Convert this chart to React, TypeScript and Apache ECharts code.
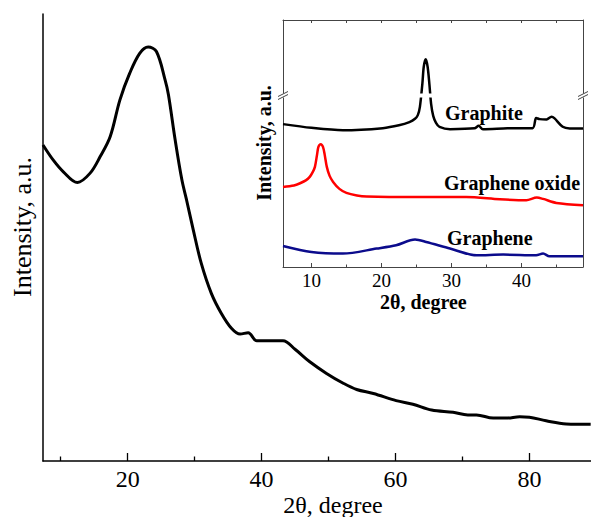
import React, { useEffect, useRef } from "react";
import * as echarts from "echarts";

// Main pattern (2θ in degrees, intensity in a.u.)
const mainTheta = [7.36, 8.9, 10.4, 12.5, 14.4, 15.9, 17.4, 18.85, 20.3, 21.8, 23.07, 24.3, 25.6, 26.1, 27.1, 28.1, 28.8, 29.8, 31.0, 32.5, 34.0, 35.5, 36.8, 38.0, 39.3, 43.2, 45.0, 47.2, 49.7, 52.2, 54.2, 56.7, 60.1, 62.6, 65.4, 68.6, 70.8, 72.1, 74.6, 76.6, 78.55, 80.0, 82.5, 85.5, 89.15];
const mainIntensity = [70.7, 67.3, 64.7, 62.3, 64.4, 68.1, 72.6, 80.8, 86.7, 91.2, 92.6, 91.6, 85.2, 81.9, 71.8, 62.9, 58.4, 51.7, 44.2, 37.5, 33.0, 29.7, 28.4, 28.7, 26.9, 26.9, 25.0, 22.2, 19.6, 17.4, 16.0, 15.1, 13.5, 12.7, 11.4, 10.9, 10.3, 10.3, 9.6, 9.6, 9.9, 9.8, 9.0, 8.3, 8.2];

// Inset patterns
const graphiteTheta = [5.94, 10, 14.5, 20.2, 22.5, 24, 24.8, 25.2, 25.5, 25.85, 26.05, 26.33, 26.6, 26.85, 27.1, 27.4, 27.8, 28.3, 29.8, 33.3, 33.9, 34.5, 38, 41.6, 42.1, 42.6, 43.6, 44.3, 44.7, 45.9, 46.9, 48.8];
const graphiteIntensity = [142.7, 139, 136.7, 138.7, 141.5, 144.7, 148, 151.7, 160, 183, 200, 207.4, 200, 183, 163, 151, 144, 140, 137.7, 138.5, 141, 137.6, 138.5, 138.7, 148.7, 147.7, 147.4, 150, 148.7, 140, 138.4, 138.4];

const oxideTheta = [5.94, 7.5, 8.3, 9.2, 9.76, 10.2, 10.5, 10.8, 11.0, 11.33, 11.65, 11.9, 12.2, 12.6, 13.1, 14, 15, 16.5, 17.9, 25, 32.1, 36.9, 40.7, 42.2, 43.1, 45, 48.8];
const oxideIntensity = [80, 81.5, 83.4, 86.5, 90, 95, 100, 112, 120, 122.7, 120, 112, 100, 91, 85, 78, 74, 71.5, 70.5, 70, 70, 67.7, 66.7, 69.4, 68, 64, 61.7];

const grapheneTheta = [5.94, 10, 14.5, 19.3, 22.1, 24.8, 26.4, 29.8, 33.6, 37.4, 42.1, 43.1, 44, 48.8];
const grapheneIntensity = [21, 15, 13.4, 18.4, 21.7, 27.4, 25, 18.4, 11.7, 12.4, 11.7, 13.4, 10.7, 10.7];

const mainMajorTicks = [20, 40, 60, 80];
const mainMinorTicks = [10, 30, 50, 70];
const insetMajorTicks = [10, 20, 30, 40];
const insetMinorTicks = [15, 25, 35, 45];
const insetTopTicks = [10, 15, 20, 25, 30, 35, 40, 45];

const seriesNames = ["Graphite", "Graphene oxide", "Graphene"];

const zip = (xs: number[], ys: number[]) => xs.map((x, i) => [x, ys[i]]);

const SERIF = "Liberation Serif";

export default function App() {
  const ref = useRef<HTMLDivElement>(null);
  useEffect(() => {
    if (!ref.current) return;
    const chart = echarts.init(ref.current, undefined, { renderer: "svg" });
    const frame = "#444";
    const breakY = 95.5;
    const txt = (x: number, y: number, text: string, size: number, bold: boolean, align: string, rotation = 0) => ({
      type: "text", z: 102, x, y, rotation,
      style: { text, fill: "#000", fontFamily: SERIF, fontSize: size, fontWeight: bold ? "bold" : "normal", align, verticalAlign: "middle" },
    });
    chart.setOption({
      animation: false,
      backgroundColor: "#fff",
      textStyle: { fontFamily: SERIF },
      grid: [
        { left: 43, top: 14, width: 548, height: 447 },
        { left: 283, top: 20, width: 300, height: 247, show: true, backgroundColor: "#fff", borderWidth: 0 },
      ],
      xAxis: [
        {
          gridIndex: 0, type: "value", min: 7.36, max: 89.2, position: "bottom",
          axisLine: { show: true, lineStyle: { color: "#000", width: 1.5 } },
          axisTick: { show: true, inside: true, length: 8, customValues: mainMajorTicks, lineStyle: { color: "#000", width: 1.3 } },
          axisLabel: { show: true, customValues: mainMajorTicks, color: "#000", fontFamily: SERIF, fontSize: 24, margin: 6 },
          splitLine: { show: false },
        },
        {
          gridIndex: 0, type: "value", min: 7.36, max: 89.2, position: "bottom",
          axisLine: { show: false },
          axisTick: { show: true, inside: true, length: 4.5, customValues: mainMinorTicks, lineStyle: { color: "#000", width: 1.3 } },
          axisLabel: { show: false },
          splitLine: { show: false },
        },
        {
          gridIndex: 1, type: "value", min: 5.94, max: 48.8, position: "bottom",
          axisLine: { show: true, lineStyle: { color: frame, width: 1 } },
          axisTick: { show: true, inside: true, length: 4, customValues: insetMajorTicks, lineStyle: { color: frame, width: 1 } },
          axisLabel: { show: true, customValues: insetMajorTicks, color: "#000", fontFamily: SERIF, fontSize: 19, margin: 4 },
          splitLine: { show: false },
        },
        {
          gridIndex: 1, type: "value", min: 5.94, max: 48.8, position: "bottom",
          axisLine: { show: false },
          axisTick: { show: true, inside: true, length: 2.5, customValues: insetMinorTicks, lineStyle: { color: frame, width: 1 } },
          axisLabel: { show: false },
          splitLine: { show: false },
        },
        {
          gridIndex: 1, type: "value", min: 5.94, max: 48.8, position: "top",
          axisLine: { show: true, lineStyle: { color: frame, width: 1 } },
          axisTick: { show: true, inside: true, length: 3, customValues: insetTopTicks, lineStyle: { color: frame, width: 1 } },
          axisLabel: { show: false },
          splitLine: { show: false },
        },
      ],
      yAxis: [
        {
          gridIndex: 0, type: "value", min: 0, max: 100, position: "left",
          axisLine: { show: true, lineStyle: { color: "#000", width: 1.5 } },
          axisTick: { show: false }, axisLabel: { show: false }, splitLine: { show: false },
        },
        {
          gridIndex: 1, type: "value", min: 0, max: 246.7, position: "left",
          axisLine: { show: true, lineStyle: { color: frame, width: 1 } },
          axisTick: { show: false }, axisLabel: { show: false }, splitLine: { show: false },
        },
        {
          gridIndex: 1, type: "value", min: 0, max: 246.7, position: "right",
          axisLine: { show: true, lineStyle: { color: frame, width: 1 } },
          axisTick: { show: false }, axisLabel: { show: false }, splitLine: { show: false },
        },
      ],
      series: [
        {
          type: "line", xAxisIndex: 0, yAxisIndex: 0, data: zip(mainTheta, mainIntensity),
          showSymbol: false, smooth: 0.35, lineStyle: { color: "#000", width: 3 },
        },
        {
          name: seriesNames[0], type: "line", xAxisIndex: 2, yAxisIndex: 1, data: zip(graphiteTheta, graphiteIntensity),
          showSymbol: false, smooth: 0.3, lineStyle: { color: "#000", width: 2.5 },
        },
        {
          name: seriesNames[1], type: "line", xAxisIndex: 2, yAxisIndex: 1, data: zip(oxideTheta, oxideIntensity),
          showSymbol: false, smooth: 0.3, lineStyle: { color: "#ff0000", width: 2.5 },
        },
        {
          name: seriesNames[2], type: "line", xAxisIndex: 2, yAxisIndex: 1, data: zip(grapheneTheta, grapheneIntensity),
          showSymbol: false, smooth: 0.3, lineStyle: { color: "#0b0b8c", width: 2.5 },
        },
      ],
      graphic: [
        { type: "rect", z: 100, shape: { x: 278, y: breakY - 2, width: 310, height: 4 }, style: { fill: "#fff" } },
        { type: "line", z: 101, shape: { x1: 278, y1: breakY + 1, x2: 288, y2: breakY - 4 }, style: { stroke: frame, lineWidth: 1 } },
        { type: "line", z: 101, shape: { x1: 278, y1: breakY + 4, x2: 288, y2: breakY - 1 }, style: { stroke: frame, lineWidth: 1 } },
        { type: "line", z: 101, shape: { x1: 578, y1: breakY + 1, x2: 588, y2: breakY - 4 }, style: { stroke: frame, lineWidth: 1 } },
        { type: "line", z: 101, shape: { x1: 578, y1: breakY + 4, x2: 588, y2: breakY - 1 }, style: { stroke: frame, lineWidth: 1 } },
        txt(333, 505, "2θ, degree", 24, false, "center"),
        txt(22, 227, "Intensity, a.u.", 26, false, "center", Math.PI / 2),
        txt(264, 143, "Intensity, a.u.", 20, true, "center", Math.PI / 2),
        txt(380, 302, "2θ, degree", 20, true, "left"),
        txt(445, 113, seriesNames[0], 20, true, "left"),
        txt(444, 183, seriesNames[1], 20, true, "left"),
        txt(447, 238, seriesNames[2], 20, true, "left"),
      ],
    });
    return () => chart.dispose();
  }, []);
  return <div ref={ref} style={{ position: "absolute", left: 0, top: 0, width: 591, height: 517 }} />;
}
